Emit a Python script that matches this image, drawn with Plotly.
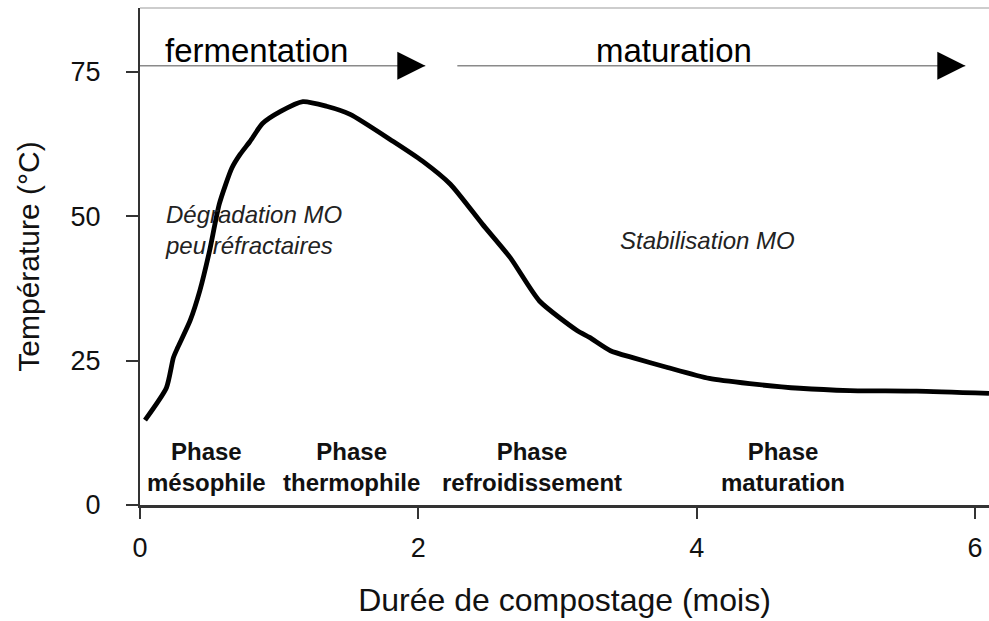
import plotly.graph_objects as go

# ── data ────────────────────────────────────────────────────────────────────
months = [0.036, 0.19, 0.24, 0.27, 0.36, 0.43, 0.50, 0.57, 0.66, 0.72, 0.79,
          0.88, 1.01, 1.17, 1.34, 1.51, 1.82, 2.03, 2.23, 2.46, 2.66, 2.87,
          3.14, 3.23, 3.38, 3.54, 3.79, 4.09, 4.38, 4.74, 5.10, 5.58, 6.10]
temperature = [14.7, 20.3, 25.5, 27.2, 31.9, 37.1, 44.0, 52.1, 58.3, 60.7, 62.9,
               66.0, 68.1, 69.8, 69.0, 67.6, 62.9, 59.5, 55.5, 48.6, 42.8, 35.3,
               30.2, 29.0, 26.7, 25.5, 23.8, 21.9, 21.0, 20.2, 19.8, 19.7, 19.3]

x_ticks = [0, 2, 4, 6]
y_ticks = [0, 25, 50, 75]

stage_names = ["fermentation", "maturation"]
stage_start = [0.0, 2.28]
stage_end = [2.05, 5.93]
stage_label_x = [0.165, 3.84]
stage_y = 76

phase_names = ["Phase<br>mésophile", "Phase<br>thermophile",
               "Phase<br>refroidissement", "Phase<br>maturation"]
phase_x = [0.48, 1.52, 2.82, 4.62]
phase_y = 6.6

process_notes = ["Dégradation MO<br>peu réfractaires", "Stabilisation MO"]
process_x = [0.165, 4.08]
process_y = [47.6, 45.8]

FONT = "Liberation Sans, Arial, sans-serif"

fig = go.Figure()

# stage arrows (thin grey shaft)
for s, e in zip(stage_start, stage_end):
    fig.add_trace(go.Scatter(
        x=[s, e], y=[stage_y, stage_y], mode="lines",
        line=dict(color="#8a8a8a", width=1.5),
        showlegend=False, hoverinfo="skip",
    ))

# temperature curve
fig.add_trace(go.Scatter(
    x=months, y=temperature, mode="lines",
    line=dict(color="black", width=4.8, shape="spline", smoothing=0.6),
    showlegend=False,
))

annotations = []
for name, lx, e in zip(stage_names, stage_label_x, stage_end):
    annotations.append(dict(
        x=lx, y=stage_y, text=name, showarrow=False,
        xanchor="left" if name == "fermentation" else "center",
        yanchor="bottom", yshift=-5,
        font=dict(size=33, color="black", family=FONT),
    ))
    # black arrowhead
    annotations.append(dict(
        x=e, y=stage_y, ax=e - 0.2, ay=stage_y, axref="x", ayref="y",
        text="", showarrow=True, arrowhead=2, arrowsize=2.8, arrowwidth=2,
        arrowcolor="black", standoff=0,
    ))

for name, px in zip(phase_names, phase_x):
    annotations.append(dict(
        x=px, y=phase_y, text=f"<b>{name}</b>", showarrow=False,
        xanchor="center", yanchor="middle", align="center",
        font=dict(size=24, color="#111", family=FONT),
    ))

for note, nx, ny in zip(process_notes, process_x, process_y):
    annotations.append(dict(
        x=nx, y=ny, text=f"<i>{note}</i>", showarrow=False,
        xanchor="left" if nx < 1 else "center", yanchor="middle", align="left",
        font=dict(size=24, color="#222", family=FONT),
    ))

fig.update_layout(
    width=989, height=621,
    paper_bgcolor="white", plot_bgcolor="white",
    margin=dict(l=140, r=0, t=8, b=116),
    font=dict(family=FONT, color="black"),
    annotations=annotations,
    shapes=[dict(type="line", xref="paper", yref="paper", x0=0, x1=1, y0=1, y1=1,
                 line=dict(color="#bdbdbd", width=1.5))],
    xaxis=dict(
        range=[0, 6.1], tickvals=x_ticks, ticks="outside", ticklen=11,
        tickcolor="#333", tickwidth=2, showline=True, linecolor="#333",
        linewidth=2.5, showgrid=False, zeroline=False, ticklabelstandoff=6,
        tickfont=dict(size=27, color="#111"),
        title=dict(text="Durée de compostage (mois)", standoff=27,
                   font=dict(size=32, color="#111")),
    ),
    yaxis=dict(
        range=[0, 86], tickvals=y_ticks, ticks="outside", ticklen=12,
        tickcolor="#333", tickwidth=2, showline=True, linecolor="#333",
        linewidth=2, showgrid=False, zeroline=False, ticklabelstandoff=20,
        tickfont=dict(size=27, color="#111"),
        title=dict(text="Température (°C)", standoff=22,
                   font=dict(size=30, color="#111")),
    ),
)

# drop the page's default body margin so the figure sits at the window's corner
fig.write_html("out.html", config={"displayModeBar": False},
               post_script="document.body.style.margin='0';")
